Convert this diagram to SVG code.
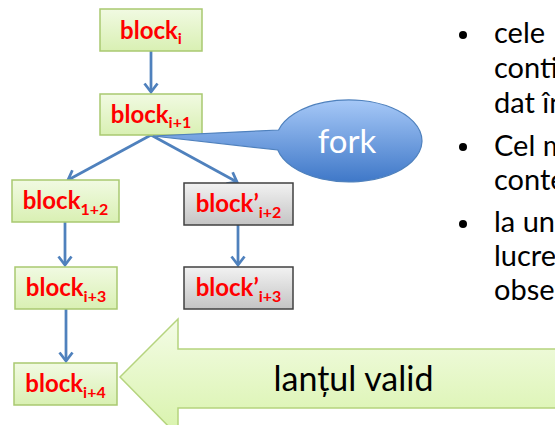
<svg xmlns="http://www.w3.org/2000/svg" width="555" height="425" viewBox="0 0 555 425">
  <defs>
    <linearGradient id="gGreen" x1="0" y1="0" x2="0" y2="1">
      <stop offset="0" stop-color="#f1fae2"/>
      <stop offset="1" stop-color="#d9f0b3"/>
    </linearGradient>
    <linearGradient id="gGray" x1="0" y1="0" x2="0" y2="1">
      <stop offset="0" stop-color="#f2f2f2"/>
      <stop offset="1" stop-color="#c4c4c4"/>
    </linearGradient>
    <linearGradient id="gBlue" x1="0" y1="0" x2="0" y2="1">
      <stop offset="0" stop-color="#a6c8f7"/>
      <stop offset="1" stop-color="#3f78c8"/>
    </linearGradient>
    <linearGradient id="gArrow" x1="0" y1="0" x2="0" y2="1">
      <stop offset="0" stop-color="#f4fce6"/>
      <stop offset="1" stop-color="#d8f3ab"/>
    </linearGradient>
    <marker id="open" markerUnits="userSpaceOnUse" markerWidth="18" markerHeight="18" viewBox="-13 -9 18 18" refX="0" refY="0" orient="auto">
      <path d="M -8.5 -6.5 L 0 0 L -8.5 6.5" fill="none" stroke="#4f81bd" stroke-width="2.75"/>
    </marker>
  </defs>
  <style>
    .green { fill: url(#gGreen); stroke: #a9c970; stroke-width: 1.5; }
    .gray { fill: url(#gGray); stroke: #404040; stroke-width: 1.5; }
    .lbl { font-family: Lato, "Liberation Sans", sans-serif; font-weight: bold; font-size: 24px; fill: #ff0000; text-anchor: middle; }
    .sub { font-size: 16px; }
    .conn { fill: none; stroke: #4f81bd; stroke-width: 2.75; marker-end: url(#open); }
    .body { font-family: Lato, "Liberation Sans", sans-serif; font-size: 29px; fill: #000000; }
  </style>

  <rect width="555" height="425" fill="#ffffff"/>

  <!-- big arrow pointing at the valid chain -->
  <g id="valid-chain">
    <polygon points="120,377 178,319 178,349 560,349 560,408 178,408 178,436" fill="url(#gArrow)" stroke="#b5d47e" stroke-width="1.5"/>
    <text x="353.5" y="391" font-family="Lato, 'Liberation Sans', sans-serif" font-size="34" fill="#000000" text-anchor="middle">lanțul valid</text>
  </g>

  <!-- connectors -->
  <g id="connectors">
    <path class="conn" d="M151 51 L151 92"/>
    <path class="conn" d="M151 135 L68 180"/>
    <path class="conn" d="M151 135 L237 182"/>
    <path class="conn" d="M65 222 L65 265"/>
    <path class="conn" d="M66 309 L66 361"/>
    <path class="conn" d="M238 225 L238 265"/>
  </g>

  <g id="block-i">
    <rect class="green" x="100" y="9" width="102" height="42"/>
    <text class="lbl" x="151" y="39">block<tspan class="sub" dy="5">i</tspan></text>
  </g>
  <g id="block-i1">
    <rect class="green" x="100" y="94" width="102" height="41"/>
    <text class="lbl" x="151" y="123">block<tspan class="sub" dy="5">i+1</tspan></text>
  </g>
  <g id="block-i2">
    <rect class="green" x="12" y="180" width="107" height="42"/>
    <text class="lbl" x="65.5" y="209">block<tspan class="sub" dy="6">1+2</tspan></text>
  </g>
  <g id="block-i3">
    <rect class="green" x="15" y="267" width="102" height="42"/>
    <text class="lbl" x="66" y="296">block<tspan class="sub" dy="6">i+3</tspan></text>
  </g>
  <g id="block-i4">
    <rect class="green" x="14" y="363" width="103" height="42"/>
    <text class="lbl" x="65.5" y="392">block<tspan class="sub" dy="6">i+4</tspan></text>
  </g>
  <g id="fork-block-i2">
    <rect class="gray" x="184" y="183" width="109" height="42"/>
    <text class="lbl" x="238.5" y="212">block’<tspan class="sub" dy="6">i+2</tspan></text>
  </g>
  <g id="fork-block-i3">
    <rect class="gray" x="184" y="267" width="109" height="42"/>
    <text class="lbl" x="238.5" y="296">block’<tspan class="sub" dy="6">i+3</tspan></text>
  </g>

  <!-- callout naming the fork -->
  <g id="fork">
    <path d="M153 136 L278.6 130 A73 41 0 1 1 277.8 150 Z" fill="url(#gBlue)" stroke="#4f81bd" stroke-width="1.2"/>
    <text x="347" y="153" font-family="Lato, 'Liberation Sans', sans-serif" font-size="33" fill="#ffffff" text-anchor="middle">fork</text>
  </g>

  <!-- bullet list -->
  <g id="notes">
    <circle cx="463" cy="35" r="4" fill="#000000"/>
    <circle cx="463" cy="147" r="4" fill="#000000"/>
    <circle cx="463" cy="224" r="4" fill="#000000"/>
    <text class="body" x="494" y="43">cele</text>
    <text class="body" x="494" y="78">conti</text>
    <text class="body" x="494" y="113">dat în</text>
    <text class="body" x="494" y="156">Cel m</text>
    <text class="body" x="494" y="190">conte</text>
    <text class="body" x="494" y="232">la un</text>
    <text class="body" x="494" y="266">lucre</text>
    <text class="body" x="494" y="300">obse</text>
  </g>
</svg>
